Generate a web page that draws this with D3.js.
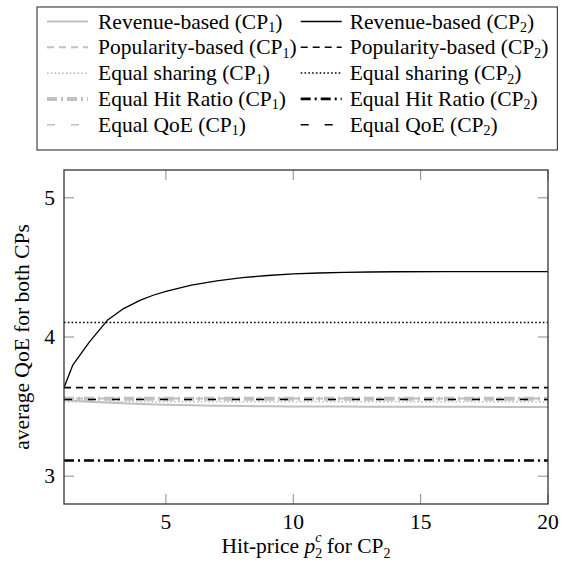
<!DOCTYPE html>
<html><head><meta charset="utf-8">
<script src="https://cdn.jsdelivr.net/npm/d3@7"></script>
<style>
body{margin:0;background:#fff}
text{font-family:"Liberation Serif","Times New Roman",serif;fill:#000}
</style>
</head><body>
<svg id="c" width="571" height="561"></svg>
<script>
// ---- data ----
const pricesCP1 = [1,2,3,4,5,6,7,8,9,10,11,12,13,14,15,16,17,18,19,20];
const revenueCP1 = [3.548,3.535,3.525,3.518,3.513,3.509,3.506,3.504,3.502,3.501,3.500,3.500,3.499,3.499,3.498,3.498,3.498,3.497,3.497,3.497];
const pricesCP2 = [1,1.35,2,2.7,3.3,4,4.5,5,6,7,8,9,10,11,12,13,14,16,18,20];
const revenueCP2 = [3.636,3.800,3.965,4.120,4.200,4.265,4.300,4.328,4.372,4.403,4.426,4.442,4.453,4.460,4.464,4.467,4.469,4.470,4.470,4.470];
const flatX = [1,20];
const popularityCP1 = [3.558,3.558];
const popularityCP2 = [3.636,3.636];
const equalShareCP1 = [3.535,3.535];
const equalShareCP2 = [4.105,4.105];
const hitRatioCP1 = [3.556,3.556];
const hitRatioCP2 = [3.113,3.113];
const equalQoECP1 = [3.553,3.553];
const equalQoECP2 = [3.551,3.551];
const xTicks = [5,10,15,20];
const yTicks = [3,4,5];
const legendNames = ["Revenue-based","Popularity-based","Equal sharing","Equal Hit Ratio","Equal QoE"];

// ---- layout ----
const L=64,R=548,T=170,B=504;
const x=d3.scaleLinear().domain([1,20]).range([L,R]);
const y=d3.scaleLinear().domain([2.8,5.2]).range([B,T]);
const svg=d3.select("#c");

const gray="#c0c0c0";
const series=[
 {name:0,cp:1,xs:pricesCP1,ys:revenueCP1,color:gray,w:2,dash:null},
 {name:0,cp:2,xs:pricesCP2,ys:revenueCP2,color:"#000",w:1.3,dash:null},
 {name:1,cp:1,xs:flatX,ys:popularityCP1,color:gray,w:2,dash:"7,5"},
 {name:1,cp:2,xs:flatX,ys:popularityCP2,color:"#000",w:1.6,dash:"7,5"},
 {name:2,cp:1,xs:flatX,ys:equalShareCP1,color:gray,w:1.6,dash:"1.6,2.2"},
 {name:2,cp:2,xs:flatX,ys:equalShareCP2,color:"#000",w:1.5,dash:"1.6,2.2"},
 {name:3,cp:1,xs:flatX,ys:hitRatioCP1,color:gray,w:4,dash:"10,4,2,4"},
 {name:3,cp:2,xs:flatX,ys:hitRatioCP2,color:"#000",w:2.6,dash:"10,4,2,4"},
 {name:4,cp:1,xs:flatX,ys:equalQoECP1,color:gray,w:1.6,dash:"8,16"},
 {name:4,cp:2,xs:flatX,ys:equalQoECP2,color:"#000",w:1.6,dash:"8,16"}
];

const defs=svg.append("defs");
defs.append("clipPath").attr("id","clip").append("rect").attr("x",L).attr("y",T).attr("width",R-L).attr("height",B-T);

// ticks (inside, all four sides)
const tickCol="#8a8a8a", tl=10;
const tg=svg.append("g").attr("stroke",tickCol).attr("stroke-width",1);
xTicks.forEach(v=>{
  tg.append("line").attr("x1",x(v)).attr("x2",x(v)).attr("y1",B).attr("y2",B-tl);
  tg.append("line").attr("x1",x(v)).attr("x2",x(v)).attr("y1",T).attr("y2",T+tl);
});
yTicks.forEach(v=>{
  tg.append("line").attr("y1",y(v)).attr("y2",y(v)).attr("x1",L).attr("x2",L+tl);
  tg.append("line").attr("y1",y(v)).attr("y2",y(v)).attr("x1",R).attr("x2",R-tl);
});

// lines
const line=(s)=>d3.line().x((d,i)=>x(s.xs[i])).y(d=>y(d))(s.ys);
const lg=svg.append("g").attr("clip-path","url(#clip)");
series.forEach(s=>{
  lg.append("path").attr("d",line(s)).attr("fill","none").attr("stroke",s.color)
    .attr("stroke-width",s.w).attr("stroke-dasharray",s.dash).attr("stroke-linejoin","round");
});

// frame
svg.append("rect").attr("x",L).attr("y",T).attr("width",R-L).attr("height",B-T)
  .attr("fill","none").attr("stroke","#333").attr("stroke-width",1.3);

// tick labels
const fs=21.5, sfs=14;
xTicks.forEach(v=>svg.append("text").attr("x",x(v)).attr("y",529).attr("text-anchor","middle").attr("font-size",fs).text(v));
yTicks.forEach(v=>svg.append("text").attr("x",55).attr("y",y(v)+7).attr("text-anchor","end").attr("font-size",fs).text(v));

// axis labels
const xl=svg.append("text").attr("x",(L+R)/2).attr("y",553).attr("text-anchor","middle").attr("font-size",fs);
xl.append("tspan").text("Hit-price ");
xl.append("tspan").attr("font-style","italic").text("p");
xl.append("tspan").attr("font-size",sfs).attr("dy",4.5).text("2");
xl.append("tspan").attr("font-size",sfs).attr("font-style","italic").attr("dx",-7).attr("dy",-15.6).text("c");
xl.append("tspan").attr("dy",11.1).text(" for CP");
xl.append("tspan").attr("font-size",sfs).attr("dy",4.5).text("2");
svg.append("text").attr("transform",`translate(29,${(T+B)/2}) rotate(-90)`).attr("text-anchor","middle").attr("font-size",fs).text("average QoE for both CPs");

// legend
const leg=svg.append("g");
const box=leg.append("rect").attr("x",37).attr("y",7).attr("height",143)
  .attr("fill","#fff").attr("stroke","#444").attr("stroke-width",1.2);
const rowY=[21.5,47.3,73.1,98.9,124.7];
const sampleW=41;
function addText(g,xp,yp,name,cp){
  const t=g.append("text").attr("x",xp).attr("y",yp+7).attr("font-size",fs);
  t.append("tspan").text(name+" (CP");
  t.append("tspan").attr("font-size",sfs).attr("dy",3.5).text(cp);
  t.append("tspan").attr("dy",-3.5).text(")");
  return t;
}
let maxW=0;
const col1x=47;
series.filter(s=>s.cp===1).forEach(s=>{
  const yy=rowY[s.name];
  leg.append("line").attr("x1",col1x).attr("x2",col1x+sampleW).attr("y1",yy).attr("y2",yy)
    .attr("stroke",s.color).attr("stroke-width",s.w).attr("stroke-dasharray",s.dash);
  const t=addText(leg,col1x+sampleW+10,yy,legendNames[s.name],s.cp);
  maxW=Math.max(maxW,t.node().getComputedTextLength());
});
const col2x=col1x+sampleW+10+maxW+4;
let maxW2=0;
series.filter(s=>s.cp===2).forEach(s=>{
  const yy=rowY[s.name];
  leg.append("line").attr("x1",col2x).attr("x2",col2x+sampleW).attr("y1",yy).attr("y2",yy)
    .attr("stroke",s.color).attr("stroke-width",s.w).attr("stroke-dasharray",s.dash);
  const t=addText(leg,col2x+sampleW+8,yy,legendNames[s.name],s.cp);
  maxW2=Math.max(maxW2,t.node().getComputedTextLength());
});
box.attr("width",col2x+sampleW+8+maxW2+9-37);
</script>
</body></html>
